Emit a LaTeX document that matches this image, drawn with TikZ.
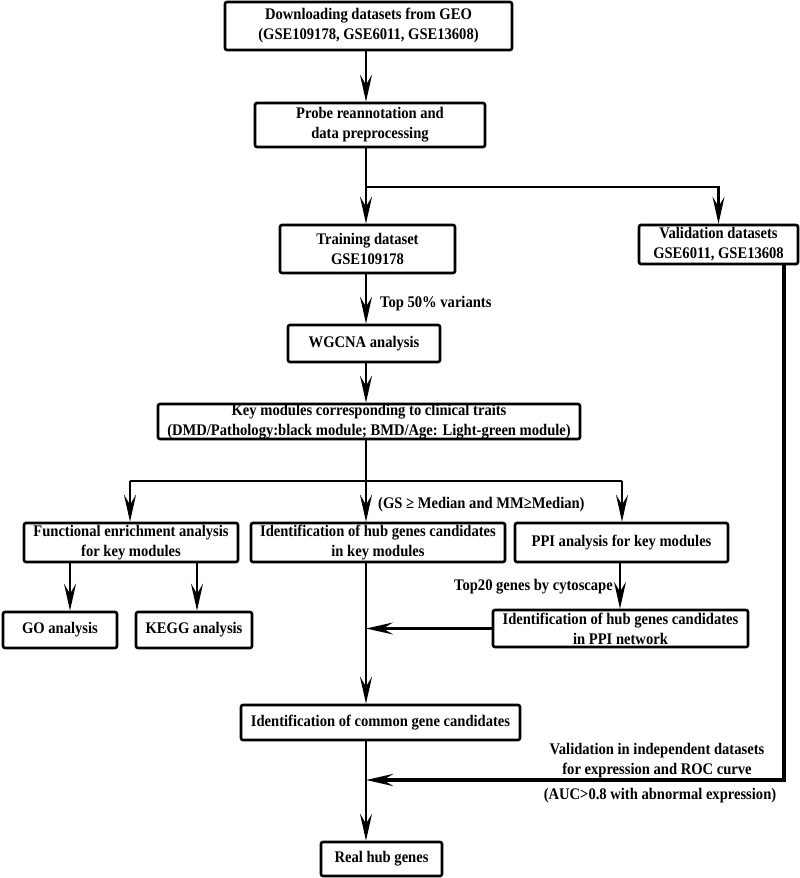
\documentclass[tikz,border=0pt]{standalone}
\usepackage{fontspec}
\setmainfont{Liberation Serif}[FakeStretch=0.9]
\usetikzlibrary{arrows.meta}
\begin{document}
\begin{tikzpicture}[x=1pt,y=-1pt,
  box/.style={draw, line width=2.6pt, rounded corners=2pt, inner sep=0pt, align=center,
    font=\fontsize{16.2}{20}\selectfont\bfseries},
  lbl/.style={inner sep=0pt, align=center, font=\fontsize{16.2}{20}\selectfont\bfseries},
  conn/.style={line width=2.2pt, -{Stealth[length=27pt,width=12pt,inset=10pt]}},
  plain/.style={line width=2.2pt},
  thickconn/.style={line width=4pt, -{Stealth[length=27pt,width=12pt,inset=10pt]}}]
\useasboundingbox (0,0) rectangle (800,878);
% boxes
\node[box, minimum width=287pt, minimum height=48pt] (dl) at (368.5,26) {Downloading datasets from GEO\\(GSE109178, GSE6011, GSE13608)};
\node[box, minimum width=230pt, minimum height=44pt] (probe) at (370,125) {Probe reannotation and\\data preprocessing};
\node[box, minimum width=175pt, minimum height=48pt] (train) at (367.5,249) {Training dataset\\GSE109178};
\node[box, minimum width=159pt, minimum height=39pt] (valid) at (718.5,244.5) {Validation datasets\\GSE6011, GSE13608};
\node[box, minimum width=152pt, minimum height=37pt] (wgcna) at (364,343.5) {WGCNA analysis};
\node[box, minimum width=422pt, minimum height=35pt] (key) at (369,421.5) {Key modules corresponding to clinical traits\\(DMD/Pathology:black module; BMD/Age: Light-green module)};
\node[box, minimum width=214pt, minimum height=39pt] (func) at (131,542.5) {Functional enrichment analysis\\for key modules};
\node[box, minimum width=254pt, minimum height=39pt] (hub) at (378,542.5) {Identification of hub genes candidates\\in key modules};
\node[box, minimum width=213pt, minimum height=39pt] (ppi) at (621.5,542.5) {PPI analysis for key modules};
\node[box, minimum width=114pt, minimum height=36pt] (go) at (60,630) {GO analysis};
\node[box, minimum width=116pt, minimum height=36pt] (kegg) at (194,630) {KEGG analysis};
\node[box, minimum width=255pt, minimum height=37pt] (hubppi) at (620.5,628.5) {Identification of hub genes candidates\\in PPI network};
\node[box, minimum width=279pt, minimum height=35pt] (common) at (380.5,722.5) {Identification of common gene candidates};
\node[box, minimum width=121pt, minimum height=34pt] (real) at (381.5,859) {Real hub genes};
% labels
\node[lbl, anchor=west] (top50) at (380,304) {Top 50\% variants};
\node[lbl, anchor=west] (gs) at (378,505) {(GS ≥ Median and MM≥Median)};
\node[lbl, anchor=east] (top20) at (613,587) {Top20 genes by cytoscape};
\node[lbl] (vlabel) at (657,761) {Validation in independent datasets\\for expression and ROC curve};
\node[lbl] (auc) at (660,796) {(AUC>0.8 with abnormal expression)};
% coordinates
\coordinate (tx) at (366,0);
\coordinate (br) at (366,187);
\coordinate (split) at (366,481);
\coordinate (sl) at (130,481);
\coordinate (sr) at (622,481);
\coordinate (vx) at (784,0);
\coordinate (merge) at (366,780);
\coordinate (gox) at (70,0);
\coordinate (keggx) at (197,0);
\coordinate (ppix) at (620,0);
% connectors
\draw[conn] (dl.south -| tx) -- (probe.north -| tx);
\draw[conn] (probe.south -| tx) -- (train.north -| tx);
\draw[conn] (br) -| (valid.north);
\draw[conn] (train.south -| tx) -- (wgcna.north -| tx);
\draw[conn] (wgcna.south -| tx) -- (key.north -| tx);
\draw[plain] (key.south -| tx) -- (split);
\draw[plain] (sl) -- (sr);
\draw[conn] (sl) -- (func.north -| sl);
\draw[conn] (split) -- (hub.north -| tx);
\draw[conn] (sr) -- (ppi.north -| sr);
\draw[conn] (func.south -| gox) -- (go.north -| gox);
\draw[conn] (func.south -| keggx) -- (kegg.north -| keggx);
\draw[conn] (ppi.south -| ppix) -- (hubppi.north -| ppix);
\draw[conn] (hubppi.west) -- (hubppi.west -| tx);
\draw[conn] (hub.south -| tx) -- (common.north -| tx);
\draw[conn] (common.south -| tx) -- (real.north -| tx);
\draw[thickconn] (valid.south -| vx) |- (merge);
\end{tikzpicture}
\end{document}
